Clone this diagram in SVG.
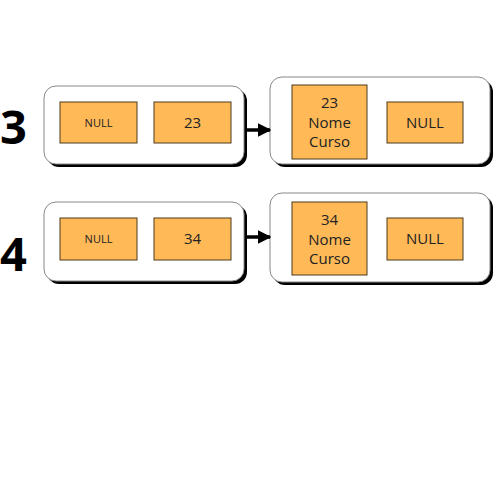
<svg xmlns="http://www.w3.org/2000/svg" width="500" height="500" viewBox="0 0 500 500">
<defs>
<style>
.outer{fill:#fff;stroke:#888;stroke-width:1}
.shadow{fill:#000}
.cell{fill:#FFB957;stroke:#4d3a1a;stroke-width:1}
.t{font-family:"Open Sans","DejaVu Sans",sans-serif;fill:#222;text-anchor:middle}
.num{font-family:"Open Sans","DejaVu Sans",sans-serif;font-weight:bold;font-size:47px;fill:#000}
.conn{stroke:#000;stroke-width:3.5;fill:none}
</style>
<marker id="ah" viewBox="0 0 10 10" refX="9" refY="5" markerWidth="3.8" markerHeight="4.2" orient="auto" markerUnits="strokeWidth">
<path d="M0,0 L10,5 L0,10 Z" fill="#000"/>
</marker>
</defs>
<rect width="500" height="500" fill="#fff"/>

<g id="label3"><text class="num" x="0" y="144">3</text></g>
<g id="label4"><text class="num" x="0" y="271">4</text></g>

<g id="node1a">
<rect class="shadow" x="47" y="89" width="200" height="78" rx="12"/>
<rect class="outer" x="44" y="86" width="200" height="78" rx="12"/>
<rect class="cell" x="60" y="102" width="77" height="41"/>
<text class="t" x="98.5" y="127" font-size="11">NULL</text>
<rect class="cell" x="154" y="102" width="77" height="41"/>
<text class="t" x="192.5" y="128" font-size="15">23</text>
</g>

<g id="node1b">
<rect class="shadow" x="273" y="80" width="220" height="87" rx="12"/>
<rect class="outer" x="270" y="77" width="220" height="87" rx="12"/>
<rect class="cell" x="292" y="85" width="75" height="74"/>
<text class="t" x="329.5" y="108" font-size="15">23</text>
<text class="t" x="329.5" y="128" font-size="15">Nome</text>
<text class="t" x="329.5" y="147" font-size="15">Curso</text>
<rect class="cell" x="387" y="102" width="76" height="41"/>
<text class="t" x="425" y="128" font-size="15">NULL</text>
</g>

<g id="node2a">
<rect class="shadow" x="47" y="205" width="200" height="79" rx="12"/>
<rect class="outer" x="44" y="202" width="200" height="79" rx="12"/>
<rect class="cell" x="60" y="218" width="77" height="42"/>
<text class="t" x="98.5" y="243" font-size="11">NULL</text>
<rect class="cell" x="154" y="218" width="77" height="42"/>
<text class="t" x="192.5" y="244" font-size="15">34</text>
</g>

<g id="node2b">
<rect class="shadow" x="273" y="196" width="220" height="89" rx="12"/>
<rect class="outer" x="270" y="193" width="220" height="89" rx="12"/>
<rect class="cell" x="292" y="202" width="75" height="73"/>
<text class="t" x="329.5" y="225" font-size="15">34</text>
<text class="t" x="329.5" y="245" font-size="15">Nome</text>
<text class="t" x="329.5" y="264" font-size="15">Curso</text>
<rect class="cell" x="387" y="218" width="76" height="42"/>
<text class="t" x="425" y="244" font-size="15">NULL</text>
</g>

<g id="connectors">
<line class="conn" x1="247" y1="130" x2="270" y2="130" marker-end="url(#ah)"/>
<line class="conn" x1="247" y1="237" x2="270" y2="237" marker-end="url(#ah)"/>
</g>
</svg>
